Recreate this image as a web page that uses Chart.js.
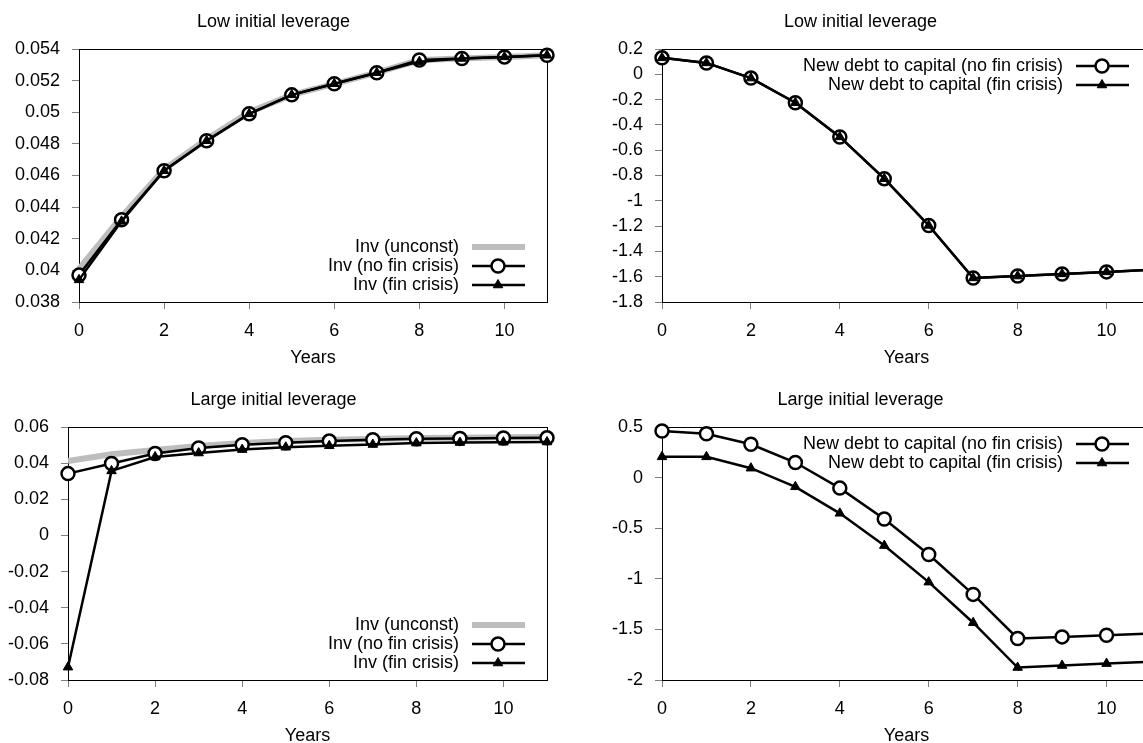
<!DOCTYPE html>
<html>
<head>
<meta charset="utf-8">
<script src="https://cdn.jsdelivr.net/npm/chart.js@4.4.0/dist/chart.umd.min.js"></script>
<style>
    html, body { margin: 0; padding: 0; background: #fff; overflow: hidden; width: 1143px; height: 743px; }
    .panel { position: absolute; }
    canvas { display: block; }
</style>
</head>
<body>
<div class="panel" style="left:0px;top:0px"><canvas id="lowInv" width="570" height="372"></canvas></div>
<div class="panel" style="left:570px;top:0px"><canvas id="lowDebt" width="600" height="372"></canvas></div>
<div class="panel" style="left:0px;top:378px"><canvas id="largeInv" width="570" height="372"></canvas></div>
<div class="panel" style="left:570px;top:378px"><canvas id="largeDebt" width="600" height="372"></canvas></div>
<script>
// Data
const years = [0, 1, 2, 3, 4, 5, 6, 7, 8, 9, 10, 11];

const lowInvUnconst  = [0.0401, 0.0434, 0.0464, 0.0483, 0.0500, 0.0511, 0.0518, 0.0525, 0.0533, 0.0534, 0.0535, 0.0536];
const lowInvNoCrisis = [0.0397, 0.0432, 0.0463, 0.0482, 0.0499, 0.0511, 0.0518, 0.0525, 0.0533, 0.0534, 0.0535, 0.0536];
const lowInvCrisis   = [0.0394, 0.0431, 0.0463, 0.0482, 0.0499, 0.0511, 0.0518, 0.0525, 0.0532, 0.0534, 0.0535, 0.0536];

const lowDebtNoCrisis = [0.13, 0.09, -0.03, -0.225, -0.495, -0.825, -1.195, -1.61, -1.595, -1.578, -1.562, -1.545];
const lowDebtCrisis   = [0.13, 0.09, -0.03, -0.225, -0.495, -0.825, -1.195, -1.61, -1.595, -1.578, -1.562, -1.545];

const largeInvUnconst  = [0.0412, 0.0449, 0.0473, 0.0495, 0.0512, 0.0522, 0.0529, 0.0534, 0.0539, 0.0541, 0.0543, 0.0544];
const largeInvNoCrisis = [0.0342, 0.0398, 0.0453, 0.0484, 0.0502, 0.0513, 0.0522, 0.0529, 0.0535, 0.0537, 0.0539, 0.0540];
const largeInvCrisis   = [-0.0729, 0.0357, 0.0434, 0.0456, 0.0475, 0.0488, 0.0496, 0.0503, 0.0511, 0.0514, 0.0516, 0.0517];

const largeDebtNoCrisis = [0.461, 0.434, 0.329, 0.149, -0.104, -0.409, -0.760, -1.154, -1.590, -1.574, -1.557, -1.540];
const largeDebtCrisis   = [0.205, 0.205, 0.093, -0.091, -0.353, -0.672, -1.033, -1.434, -1.877, -1.857, -1.838, -1.820];

// Tick values and labels
const yearTicks = [0, 2, 4, 6, 8, 10];
const yearLabels = ['0', '2', '4', '6', '8', '10'];

const lowInvTicks = [0.054, 0.052, 0.05, 0.048, 0.046, 0.044, 0.042, 0.04, 0.038];
const lowInvLabels = ['0.054', '0.052', '0.05', '0.048', '0.046', '0.044', '0.042', '0.04', '0.038'];

const lowDebtTicks = [0.2, 0, -0.2, -0.4, -0.6, -0.8, -1, -1.2, -1.4, -1.6, -1.8];
const lowDebtLabels = ['0.2', '0', '-0.2', '-0.4', '-0.6', '-0.8', '-1', '-1.2', '-1.4', '-1.6', '-1.8'];

const largeInvTicks = [0.06, 0.04, 0.02, 0, -0.02, -0.04, -0.06, -0.08];
const largeInvLabels = ['0.06', '0.04', '0.02', '0', '-0.02', '-0.04', '-0.06', '-0.08'];

const largeDebtTicks = [0.5, 0, -0.5, -1, -1.5, -2];
const largeDebtLabels = ['0.5', '0', '-0.5', '-1', '-1.5', '-2'];

const FONT = { family: '"Liberation Sans", Arial, sans-serif', size: 18 };

const pts = (vals) => years.map((x, i) => ({ x: x, y: vals[i] }));

const unconstStyle = (label, vals) => ({
    label: label, data: pts(vals), order: 3,
    borderColor: '#bdbdbd', borderWidth: 6, pointRadius: 0, clip: false
});
const circleStyle = (label, vals) => ({
    label: label, data: pts(vals), order: 2,
    borderColor: '#000', borderWidth: 2.5,
    pointStyle: 'circle', pointRadius: 6.5, pointBorderWidth: 2.5,
    pointBackgroundColor: '#fff', pointBorderColor: '#000', clip: false
});
const triangleStyle = (label, vals) => ({
    label: label, data: pts(vals), order: 1,
    borderColor: '#000', borderWidth: 2.5,
    pointStyle: 'triangle', pointRadius: 5.5, pointBorderWidth: 1,
    pointBackgroundColor: '#000', pointBorderColor: '#000', clip: false
});

// box around the plot area, gnuplot style
const frame = {
    id: 'frame',
    beforeDatasetsDraw(chart) {
        const { ctx, chartArea: a } = chart;
        ctx.save();
        ctx.strokeStyle = '#000';
        ctx.lineWidth = 1;
        ctx.strokeRect(Math.round(a.left) + 0.5, Math.round(a.top) + 0.5,
            Math.round(a.right - a.left), Math.round(a.bottom - a.top));
        ctx.restore();
    }
};

// key with text on the left and the sample on the right
const keyBox = {
    id: 'keyBox',
    afterDatasetsDraw(chart, args, opts) {
        const { ctx, chartArea: a } = chart;
        const sets = chart.data.datasets;
        ctx.save();
        ctx.font = FONT.size + 'px ' + FONT.family;
        ctx.textAlign = 'right';
        ctx.textBaseline = 'middle';
        sets.forEach((ds, i) => {
            const y = opts.where === 'top' ? a.top + 17 + i * 19 : a.bottom - 17 - (sets.length - 1 - i) * 19;
            ctx.fillStyle = '#000';
            ctx.fillText(ds.label, a.right - 88, y);
            ctx.strokeStyle = ds.borderColor;
            ctx.lineWidth = ds.borderWidth;
            ctx.beginPath();
            ctx.moveTo(a.right - 75, y);
            ctx.lineTo(a.right - 22, y);
            ctx.stroke();
            if (ds.pointRadius > 0) {
                ctx.fillStyle = ds.pointBackgroundColor;
                ctx.strokeStyle = ds.pointBorderColor;
                ctx.lineWidth = ds.pointBorderWidth;
                Chart.helpers.drawPoint(ctx, { pointStyle: ds.pointStyle, radius: ds.pointRadius, borderWidth: ds.pointBorderWidth, rotation: 0 }, a.right - 49, y);
            }
        });
        ctx.restore();
    }
};

function makeChart(id, title, datasets, yTicks, yLabels, axisWidth, padRight, keyWhere) {
    const ctx = document.getElementById(id).getContext('2d');
    return new Chart(ctx, {
        type: 'line',
        data: { datasets: datasets },
        plugins: [frame, keyBox],
        options: {
            responsive: false,
            animation: false,
            devicePixelRatio: 1,
            layout: { padding: { top: 0, right: padRight, bottom: 0, left: 0 } },
            plugins: {
                legend: { display: false },
                tooltip: { enabled: false },
                title: {
                    display: true, text: title, color: '#000',
                    font: { family: FONT.family, size: FONT.size, weight: 'normal' },
                    padding: { top: 11, bottom: 16.4 }
                },
                keyBox: { where: keyWhere }
            },
            scales: {
                x: {
                    type: 'linear', min: 0, max: 11,
                    afterBuildTicks: (s) => { s.ticks = yearTicks.map(v => ({ value: v })); },
                    afterFit: (s) => { s.height = 70; },
                    grid: { drawOnChartArea: false, tickLength: 7, color: '#808080', lineWidth: 1 },
                    border: { display: true, color: '#000', width: 1 },
                    ticks: {
                        color: '#000', font: FONT, padding: 11, maxRotation: 0, autoSkip: false,
                        callback: (v, i) => yearLabels[i]
                    },
                    title: { display: true, text: 'Years', color: '#000', font: FONT, padding: { top: 0, bottom: 3 } }
                },
                y: {
                    type: 'linear', min: yTicks[yTicks.length - 1], max: yTicks[0],
                    afterBuildTicks: (s) => { s.ticks = yTicks.slice().reverse().map(v => ({ value: v })); },
                    afterFit: (s) => { s.width = axisWidth; },
                    grid: { drawOnChartArea: false, tickLength: 7, color: '#808080', lineWidth: 1 },
                    border: { display: true, color: '#000', width: 1 },
                    ticks: {
                        color: '#000', font: FONT, padding: 12, autoSkip: false,
                        callback: (v, i) => yLabels[yLabels.length - 1 - i]
                    }
                }
            }
        }
    });
}

makeChart('lowInv', 'Low initial leverage', [
    unconstStyle('Inv (unconst)', lowInvUnconst),
    circleStyle('Inv (no fin crisis)', lowInvNoCrisis),
    triangleStyle('Inv (fin crisis)', lowInvCrisis)
], lowInvTicks, lowInvLabels, 79, 23, 'bottom');

makeChart('lowDebt', 'Low initial leverage', [
    circleStyle('New debt to capital (no fin crisis)', lowDebtNoCrisis),
    triangleStyle('New debt to capital (fin crisis)', lowDebtCrisis)
], lowDebtTicks, lowDebtLabels, 92, 19, 'top');

makeChart('largeInv', 'Large initial leverage', [
    unconstStyle('Inv (unconst)', largeInvUnconst),
    circleStyle('Inv (no fin crisis)', largeInvNoCrisis),
    triangleStyle('Inv (fin crisis)', largeInvCrisis)
], largeInvTicks, largeInvLabels, 68, 23, 'bottom');

makeChart('largeDebt', 'Large initial leverage', [
    circleStyle('New debt to capital (no fin crisis)', largeDebtNoCrisis),
    triangleStyle('New debt to capital (fin crisis)', largeDebtCrisis)
], largeDebtTicks, largeDebtLabels, 92, 19, 'top');
</script>
</body>
</html>
